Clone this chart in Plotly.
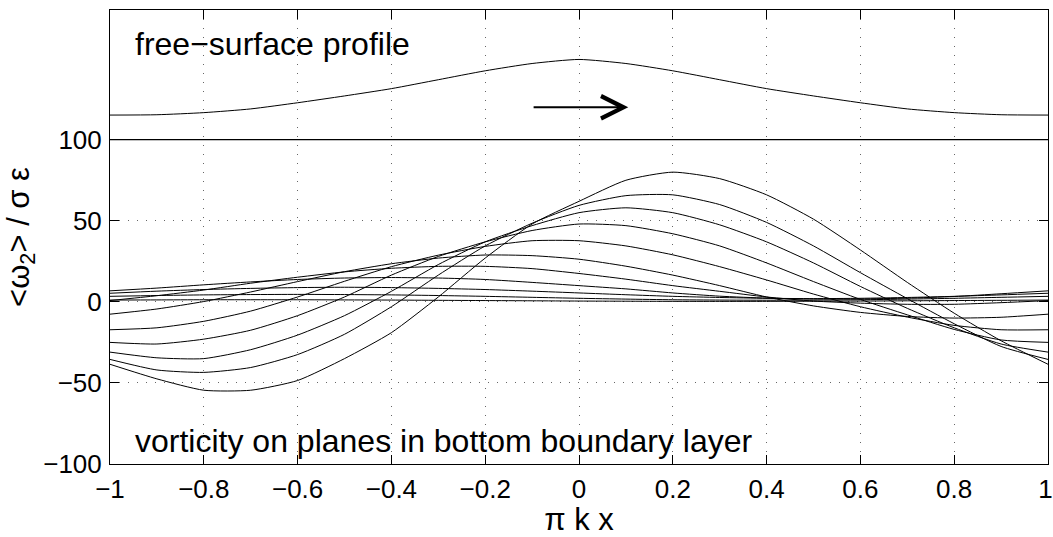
import plotly.graph_objects as go

# ---------------- data ----------------
X = [-1.0, -0.9, -0.8, -0.7, -0.6, -0.5, -0.4, -0.3, -0.2, -0.1, 0.0,
     0.1, 0.2, 0.3, 0.4, 0.5, 0.6, 0.7, 0.8, 0.9, 1.0]

# free-surface profile (drawn in the band above 100)
surface = [115.2, 115.4, 116.7, 119.0, 122.8, 127.0, 131.5, 137.0, 142.5, 147.0, 149.5,
           147.0, 142.5, 137.0, 131.5, 127.0, 122.8, 119.0, 116.7, 115.4, 115.2]

# vorticity on successive planes
plane_1 = [-38.5, -47.5, -54.5, -54.5, -48.5, -35.0, -19.0, 3.0, 27.0, 48.0, 62.0,
           75.0, 80.0, 76.0, 66.0, 51.0, 32.0, 12.0, -7.0, -24.0, -38.5]
plane_2 = [-35.5, -42.0, -43.5, -40.5, -32.5, -20.0, -3.0, 16.5, 34.5, 48.5, 59.5,
           65.5, 66.0, 60.0, 49.0, 34.5, 18.0, 2.0, -13.5, -27.5, -35.5]
plane_3 = [-31.0, -34.5, -35.0, -29.5, -20.5, -8.5, 6.5, 23.0, 37.0, 47.0, 55.0,
           58.0, 55.0, 47.5, 37.0, 24.0, 9.5, -4.0, -16.0, -26.0, -31.0]
plane_4 = [-25.0, -26.0, -23.0, -17.5, -8.5, 3.0, 16.5, 28.0, 37.0, 44.0, 48.0,
           47.0, 42.0, 34.5, 24.0, 12.5, 1.5, -8.0, -17.0, -23.5, -25.0]
plane_5 = [-17.2, -16.0, -12.0, -5.7, 3.0, 12.7, 21.7, 28.8, 34.2, 37.7, 37.7,
           34.5, 29.0, 21.7, 13.5, 4.8, -3.0, -9.4, -14.5, -17.2, -17.2]
plane_6 = [-7.6, -4.4, 0.2, 6.1, 12.5, 18.6, 23.5, 27.0, 28.9, 28.5, 26.3,
           22.0, 16.5, 10.0, 3.0, -2.5, -6.5, -9.0, -10.0, -9.5, -7.6]
plane_7 = [0.8, 3.8, 7.3, 11.5, 15.2, 18.5, 20.7, 21.9, 21.9, 20.5, 17.5,
           14.0, 10.0, 6.5, 3.0, 0.5, -0.8, -1.5, -1.5, -0.5, 0.8]
plane_8 = [6.8, 8.5, 10.5, 12.3, 13.8, 14.7, 15.0, 14.7, 13.8, 12.0, 10.0,
           8.0, 5.5, 3.5, 2.3, 1.8, 1.8, 2.3, 3.3, 5.0, 6.8]
plane_9 = [5.3, 6.6, 7.6, 8.3, 8.8, 9.0, 8.8, 8.3, 7.6, 6.6, 5.5,
           4.4, 3.4, 2.7, 2.2, 2.0, 2.2, 2.7, 3.4, 4.3, 5.3]
plane_10 = [3.4, 3.9, 4.3, 4.5, 4.6, 4.5, 4.3, 3.9, 3.4, 2.8, 2.2,
            1.7, 1.3, 1.1, 1.0, 1.1, 1.3, 1.7, 2.2, 2.8, 3.4]
plane_11 = [1.1, 1.2, 1.3, 1.3, 1.3, 1.2, 1.1, 0.95, 0.8, 0.65, 0.5,
            0.4, 0.32, 0.3, 0.32, 0.4, 0.5, 0.65, 0.8, 0.95, 1.1]

planes = [plane_1, plane_2, plane_3, plane_4, plane_5, plane_6,
          plane_7, plane_8, plane_9, plane_10, plane_11]

x_ticks = [-1, -0.8, -0.6, -0.4, -0.2, 0, 0.2, 0.4, 0.6, 0.8, 1]
x_ticktext = ["\u22121", "\u22120.8", "\u22120.6", "\u22120.4", "\u22120.2", "0",
              "0.2", "0.4", "0.6", "0.8", "1\u2009"]
y_ticks = [-100, -50, 0, 50, 100]
y_ticktext = ["\u2212100", "\u221250", "0", "50", "100"]

FONT = "Liberation Sans, Arial, Helvetica, sans-serif"

# ---------------- figure ----------------
fig = go.Figure()

for p in planes:
    fig.add_trace(go.Scatter(x=X, y=p, mode="lines",
                             line=dict(color="black", width=1, shape="spline", smoothing=0.6),
                             hoverinfo="skip", showlegend=False))

fig.add_trace(go.Scatter(x=X, y=surface, mode="lines",
                         line=dict(color="black", width=1, shape="spline", smoothing=0.6),
                         hoverinfo="skip", showlegend=False))

# separator between the two panels
fig.add_shape(type="line", xref="x", yref="y", x0=-1, x1=1, y0=100, y1=100,
              line=dict(color="black", width=1.3), layer="above")

# direction-of-propagation arrow
fig.add_annotation(x=0.105, y=120, ax=-0.1, ay=120, xref="x", yref="y",
                   axref="x", ayref="y", text="", showarrow=True,
                   arrowhead=5, arrowsize=2.2, arrowwidth=2, arrowcolor="black")

fig.add_annotation(x=-0.952, y=159, xref="x", yref="y", text="free\u2212surface profile",
                   showarrow=False, xanchor="left", yanchor="middle",
                   font=dict(family=FONT, size=32, color="black"))
fig.add_annotation(x=-0.952, y=-86, xref="x", yref="y",
                   text="vorticity on planes in bottom boundary layer",
                   showarrow=False, xanchor="left", yanchor="middle",
                   font=dict(family=FONT, size=32, color="black"))

fig.update_layout(
    width=1053, height=537,
    margin=dict(l=110, r=5, t=10, b=73),
    paper_bgcolor="white", plot_bgcolor="white",
    font=dict(family=FONT, size=26, color="black"),
    showlegend=False,
)

fig.update_xaxes(
    range=[-1, 1], tickvals=x_ticks, ticktext=x_ticktext, automargin=False,
    showline=True, linecolor="black", linewidth=1, mirror="ticks",
    ticks="inside", ticklen=9, tickcolor="black", tickwidth=1,
    showgrid=True, gridcolor="#666666", gridwidth=1, griddash="1px,8px",
    zeroline=False, ticklabelstandoff=2, ticklabeloverflow="allow",
    title=dict(text="\u03c0 k x", font=dict(family=FONT, size=31), standoff=0),
)
fig.update_yaxes(
    range=[-100, 180], tickvals=y_ticks, ticktext=y_ticktext, automargin=False,
    showline=True, linecolor="black", linewidth=1, mirror="ticks",
    ticks="inside", ticklen=9, tickcolor="black", tickwidth=1,
    showgrid=True, gridcolor="#666666", gridwidth=1, griddash="1px,8px",
    zeroline=False, ticklabelstandoff=2, ticklabeloverflow="allow",
    title=dict(text="&lt;\u03c9<sub>2</sub>&gt; / \u03c3 \u03b5",
               font=dict(family=FONT, size=31), standoff=4),
)

fig.write_html("out.html")
